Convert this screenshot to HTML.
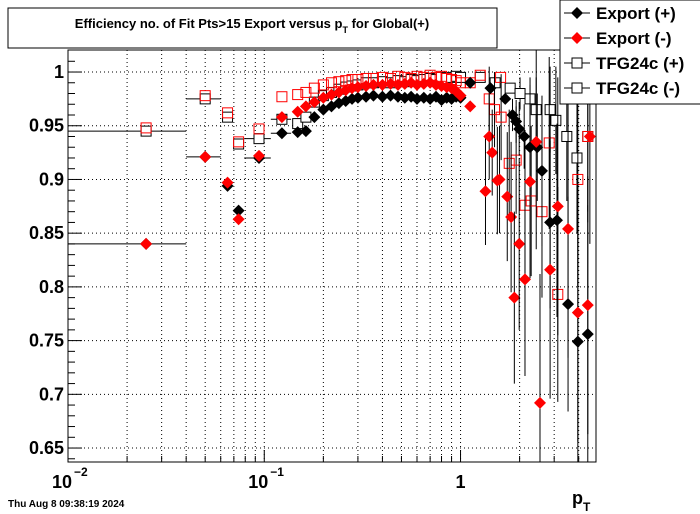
<!DOCTYPE html>
<html><head><meta charset="utf-8"><style>
body{margin:0;background:#fff;}
svg{display:block;font-family:"Liberation Sans",sans-serif;}
</style></head><body>
<svg id="c" width="700" height="514"></svg>
<script>
const pDense=[0.18,0.2,0.22,0.24,0.26,0.28,0.3,0.33,0.36,0.4,0.44,0.48,0.52,0.56,0.6,0.65,0.7,0.75,0.8,0.85,0.9,0.95,1.0];
const expPosLowP=[0.025,0.05,0.065,0.074,0.094,0.123,0.148,0.163];
const expPosLowV=[0.840,0.921,0.894,0.871,0.920,0.943,0.944,0.945];
const expNegLowV=[0.840,0.921,0.897,0.863,0.922,0.958,0.963,0.968];
const tfgPosLowV=[0.945,0.975,0.958,0.933,0.938,0.956,0.952,0.958];
const tfgNegLowV=[0.948,0.978,0.962,0.935,0.947,0.977,0.979,0.981];
const lowBinLo=[0.01,0.04,0.062,0.071,0.079,0.108,0.14,0.157];
const lowBinHi=[0.04,0.06,0.068,0.077,0.108,0.137,0.156,0.17];
const expPosDense=[.958,.965,.968,.971,.973,.975,.976,.977,.978,.977,.978,.977,.976,.977,.975,.976,.975,.977,.974,.976,.975,.977,.976];
const expNegDense=[.972,.976,.979,.981,.983,.985,.986,.987,.988,.988,.989,.988,.989,.99,.988,.989,.99,.988,.987,.986,.985,.982,.978];
const tfgPosDense=[.972,.978,.981,.984,.986,.987,.988,.99,.99,.991,.99,.992,.991,.993,.992,.993,.994,.993,.995,.994,.995,.996,.995];
const tfgNegDense=[.985,.988,.99,.991,.992,.993,.993,.994,.994,.995,.994,.996,.995,.994,.996,.995,.997,.995,.996,.994,.993,.992,.99];
const expPosHiP=[1.12,1.42,1.69,1.84,1.92,1.99,2.11,2.26,2.46,2.60,2.86,3.10,3.53,3.96,4.45];
const expPosHiV=[0.99,0.985,0.975,0.96,0.954,0.947,0.94,0.93,0.93,0.908,0.86,0.862,0.784,0.749,0.756];
const expPosHiE=[0.005,0.008,0.01,0.015,0.02,0.025,0.03,0.04,0.05,0.07,0.08,0.09,0.1,0.12,0.12];
const expNegHiP=[1.12,1.34,1.40,1.45,1.54,1.58,1.73,1.81,1.88,1.99,2.13,2.26,2.43,2.54,2.86,3.13,3.53,3.96,4.45,4.56];
const expNegHiV=[0.968,0.889,0.94,0.925,0.899,0.9,0.884,0.865,0.79,0.84,0.807,0.898,0.935,0.692,0.816,0.875,0.854,0.776,0.783,0.94];
const expNegHiE=[0.01,0.05,0.04,0.04,0.05,0.05,0.06,0.07,0.08,0.08,0.09,0.09,0.1,0.12,0.12,0.12,0.12,0.12,0.12,0.1];
const tfgPosHiP=[1.26,1.50,1.79,2.01,2.26,2.43,2.86,3.06,3.48,3.92,4.45];
const tfgPosHiV=[0.995,0.99,0.985,0.98,0.975,0.965,0.965,0.955,0.94,0.92,0.94];
const tfgPosHiE=[0.005,0.008,0.01,0.015,0.02,0.03,0.04,0.05,0.06,0.07,0.07];
const tfgNegHiP=[1.12,1.26,1.40,1.49,1.60,1.61,1.77,1.92,2.13,2.29,2.60,2.83,3.13,3.96,4.45];
const tfgNegHiV=[0.99,0.997,0.975,0.965,0.995,0.958,0.915,0.918,0.876,0.88,0.87,0.934,0.793,0.9,0.94];
const tfgNegHiE=[0.005,0.005,0.03,0.035,0.01,0.04,0.05,0.05,0.07,0.07,0.08,0.08,0.1,0.1,0.08];
const yTicks=[0.65,0.7,0.75,0.8,0.85,0.9,0.95,1];
const yTickLabels=["0.65","0.7","0.75","0.8","0.85","0.9","0.95","1"];

const X0=68,X1=596,Y0=50,Y1=462;
const LX0=-2,LX1=Math.log10(4.9),V0=0.637,V1=1.0205;
const sx=p=>X0+(Math.log10(p)-LX0)/(LX1-LX0)*(X1-X0);
const sy=v=>Y1-(v-V0)/(V1-V0)*(Y1-Y0);
const svg=document.getElementById('c');
const NS='http://www.w3.org/2000/svg';
function mk(t,a,parent){const e=document.createElementNS(NS,t);for(const k in a)e.setAttribute(k,a[k]);(parent||svg).appendChild(e);return e;}

const defs=mk('defs',{});
const cp=mk('clipPath',{id:'frameclip'},defs);
mk('rect',{x:X0,y:Y0,width:X1-X0,height:Y1-Y0},cp);

const frame=mk('rect',{x:X0,y:Y0,width:X1-X0,height:Y1-Y0,fill:'#fff',stroke:'none'});


const grid=mk('g',{stroke:'#000','stroke-width':1,'stroke-dasharray':'1,3'});


for(let d=-2;d<=0;d++)for(let m=1;m<=9;m++){const p=m*Math.pow(10,d);if(p<0.01||p>4.9)continue;const x=sx(p);if(x<=X0+1)continue;mk('line',{x1:x,x2:x,y1:Y0,y2:Y1},grid);}
yTicks.forEach(v=>mk('line',{x1:X0,x2:X1,y1:sy(v),y2:sy(v)},grid));
const ax=mk('g',{stroke:'#000','stroke-width':1,fill:'none'});


mk('rect',{x:X0,y:Y0,width:X1-X0,height:Y1-Y0},ax);
for(let v=0.64;v<=1.02;v+=0.01){const vv=Math.round(v*100)/100;const maj=Math.abs(vv*20-Math.round(vv*20))<1e-6;mk('line',{x1:X0,x2:X0+(maj?14:7),y1:sy(vv),y2:sy(vv)},ax);}
for(let d=-2;d<=0;d++)for(let m=1;m<=9;m++){const p=m*Math.pow(10,d);if(p>4.9)continue;mk('line',{x1:sx(p),x2:sx(p),y1:Y1,y2:Y1-(m==1?12:6)},ax);}
yTicks.forEach((v,i)=>{const t=mk('text',{x:64,y:sy(v)+6,'text-anchor':'end','font-size':18,'font-weight':'bold'});t.textContent=yTickLabels[i];

});
[[-2,'10','−2'],[-1,'10','−1'],[0,'1','']].forEach(a=>{const x=sx(Math.pow(10,a[0]));const t=mk('text',{x:x-(a[2]?6:0),y:488,'text-anchor':'middle','font-size':18,'font-weight':'bold'});t.textContent=a[1];


if(a[2]){const s=mk('text',{x:x+6,y:476,'font-size':12,'font-weight':'bold'});s.textContent=a[2];

}});

const dataLayer=mk('g',{'clip-path':'url(#frameclip)'});


function series(name,P,V,E,color,shape,bLo,bHi){
  const g=mk('g',{},dataLayer);
  
  
  P.forEach((p,i)=>{const x=sx(p),y=sy(V[i]);
    if(E&&E[i]>0.012)mk('line',{x1:x,x2:x,y1:sy(V[i]-E[i]),y2:sy(Math.min(V[i]+E[i],1.02)),stroke:'#000','stroke-width':1},g);
    if(bLo)mk('line',{x1:sx(bLo[i]),x2:sx(bHi[i]),y1:y,y2:y,stroke:'#000','stroke-width':1},g);
    let m;
    if(shape==='d')m=mk('polygon',{points:`${x},${y-6} ${x+6},${y} ${x},${y+6} ${x-6},${y}`,fill:color},g);
    else m=mk('rect',{x:x-5,y:y-5,width:10,height:10,fill:shape==='sq'?'#fff':'none',stroke:color,'stroke-width':1},g);
    
    
  });
}
series('tfg24c-pos-low',expPosLowP,tfgPosLowV,null,'#000','sq',lowBinLo,lowBinHi);
series('tfg24c-pos-dense',pDense,tfgPosDense,null,'#000','sq');
series('tfg24c-pos-high',tfgPosHiP,tfgPosHiV,tfgPosHiE,'#000','sq');
series('tfg24c-neg-low',expPosLowP,tfgNegLowV,null,'#f00','sq2');
series('tfg24c-neg-dense',pDense,tfgNegDense,null,'#f00','sq2');
series('tfg24c-neg-high',tfgNegHiP,tfgNegHiV,tfgNegHiE,'#f00','sq2');
series('export-pos-low',expPosLowP,expPosLowV,null,'#000','d',lowBinLo,lowBinHi);
series('export-pos-dense',pDense,expPosDense,null,'#000','d');
series('export-pos-high',expPosHiP,expPosHiV,expPosHiE,'#000','d');
series('export-neg-low',expPosLowP,expNegLowV,null,'#f00','d');
series('export-neg-dense',pDense,expNegDense,null,'#f00','d');
series('export-neg-high',expNegHiP,expNegHiV,expNegHiE,'#f00','d');
</script>
<svg width="700" height="514" style="position:absolute;left:0;top:0">
<g>
<rect x="8" y="8" width="489" height="40" fill="#fff" stroke="#000"/>
<text x="252" y="28" text-anchor="middle" font-size="13" font-weight="bold" font-family="Liberation Sans,sans-serif">Efficiency no. of Fit Pts&gt;15 Export versus p<tspan font-size="9" dy="5">T</tspan><tspan dy="-5"> for Global(+)</tspan></text>
</g>
<g font-family="Liberation Sans,sans-serif" font-size="17" font-weight="bold">
<rect x="560" y="0" width="142" height="104" fill="#fff" stroke="#000"/>
<g><line x1="564" x2="590" y1="13" y2="13" stroke="#000"/><polygon points="577,7 583,13 577,19 571,13" fill="#000"/><text x="596" y="19">Export (+)</text></g>
<g><line x1="564" x2="590" y1="38" y2="38" stroke="#000"/><polygon points="577,32 583,38 577,44 571,38" fill="#f00"/><text x="596" y="44">Export (-)</text></g>
<g><line x1="564" x2="590" y1="63" y2="63" stroke="#000"/><rect x="572" y="58" width="10" height="10" fill="#fff" stroke="#000"/><text x="596" y="69">TFG24c (+)</text></g>
<g><line x1="564" x2="590" y1="88" y2="88" stroke="#000"/><rect x="572" y="83" width="10" height="10" fill="#fff" stroke="#000"/><text x="596" y="94">TFG24c (-)</text></g>
</g>
<text x="572" y="504" font-size="18" font-weight="bold" font-family="Liberation Sans,sans-serif">p<tspan font-size="12" dy="7">T</tspan></text>
<text x="8" y="507" font-size="10" font-weight="bold" font-family="Liberation Sans,sans-serif">Thu Aug  8 09:38:19 2024</text>
</svg>
</body></html>
